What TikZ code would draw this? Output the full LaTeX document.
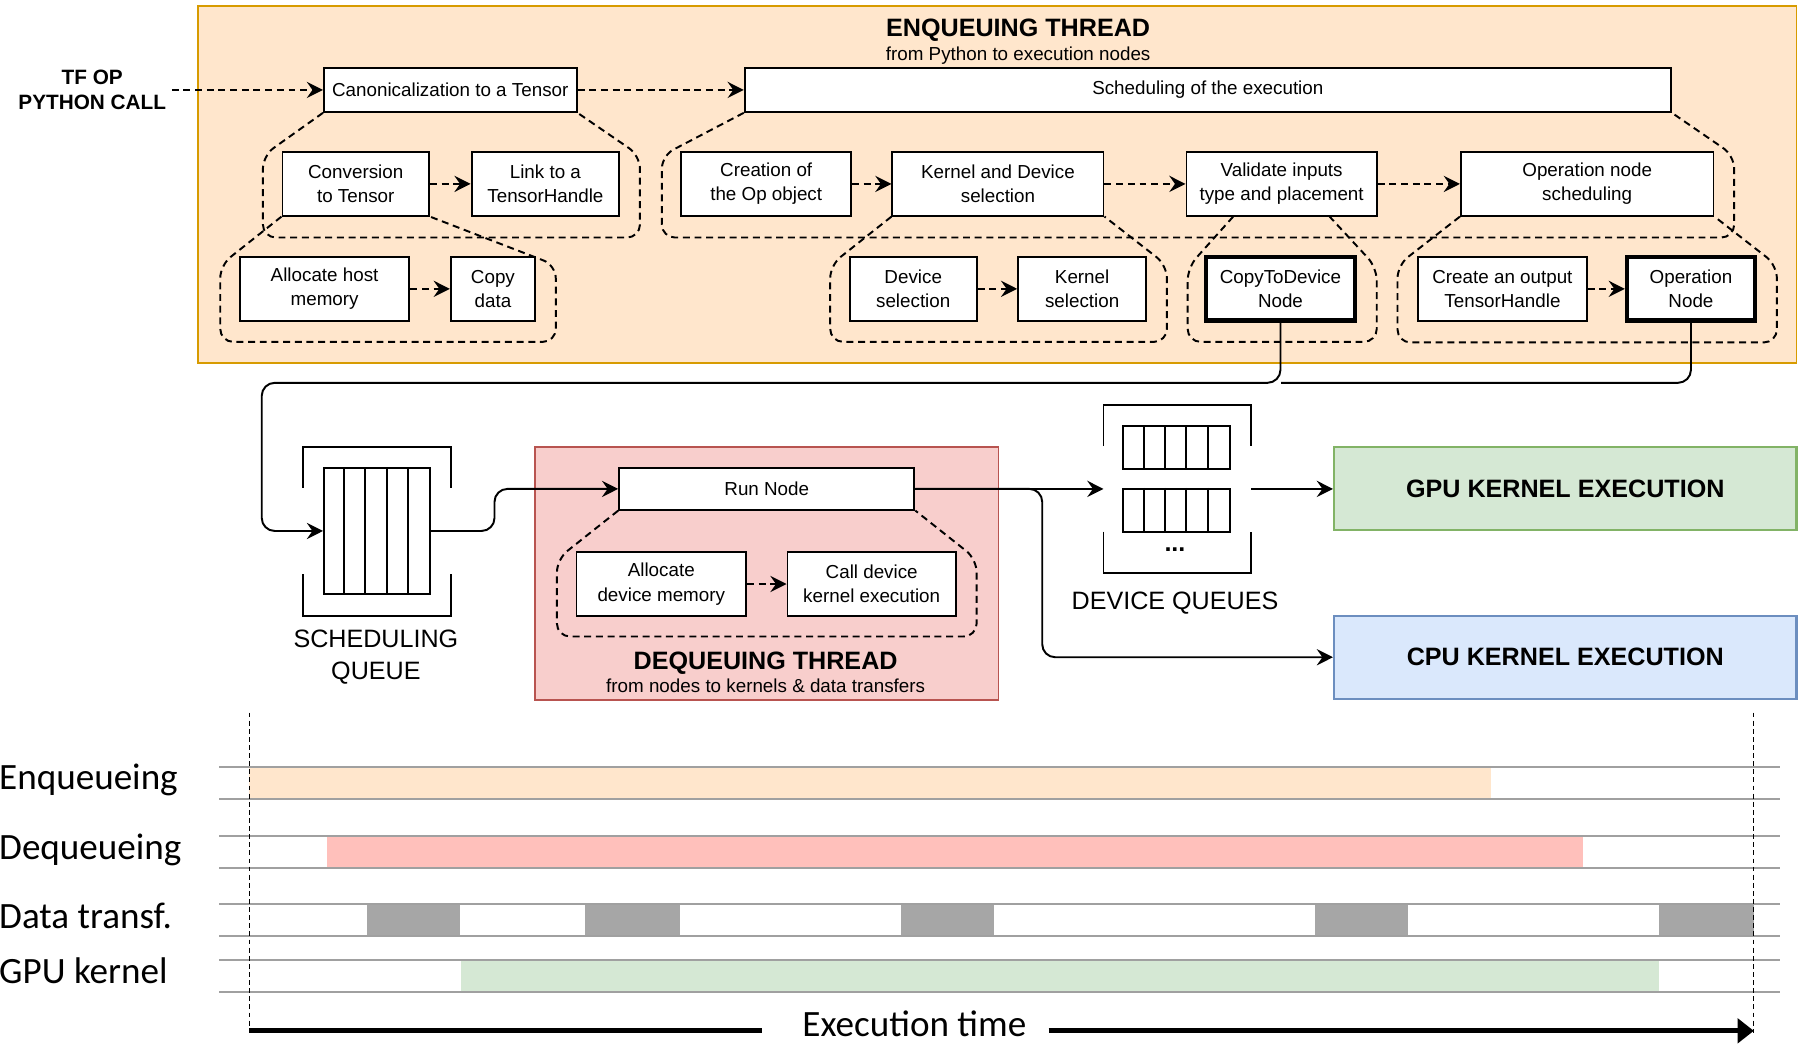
\documentclass[tikz,border=0pt]{standalone}
\usepackage{fontspec}
\setmainfont{Liberation Sans}
\newfontfamily\carlito{Carlito}
\usetikzlibrary{arrows.meta,positioning,calc}
\newcommand\boxfont{\fontsize{11.6}{15}\selectfont}
\newcommand\headfont{\fontsize{15.5}{19}\selectfont\bfseries}
\newcommand\callfont{\fontsize{12.8}{15}\selectfont\bfseries}
\newcommand\labfont{\fontsize{15.5}{19.5}\selectfont}
\newcommand\timefont{\carlito\fontsize{22.9}{27}\selectfont}
\definecolor{enqfill}{HTML}{FFE6CC}
\definecolor{enqline}{HTML}{D79B00}
\definecolor{deqfill}{HTML}{F8CECC}
\definecolor{deqline}{HTML}{B85450}
\definecolor{gpufill}{HTML}{D5E8D4}
\definecolor{gpuline}{HTML}{82B366}
\definecolor{cpufill}{HTML}{DAE8FC}
\definecolor{cpuline}{HTML}{6C8EBF}
\definecolor{deqbar}{HTML}{FFC0BB}
\definecolor{xferbar}{HTML}{A6A6A6}
\definecolor{rowline}{HTML}{A0A0A0}
\begin{document}
\begin{tikzpicture}[x=0.025cm, y=-0.025cm,
    box/.style={draw, fill=white, line width=1.2pt, align=center, font=\boxfont, inner sep=2pt},
    row/.style={box, minimum height=1.375cm},
    heavy/.style={line width=2.6pt},
    dflow/.style={dash pattern=on 4.3pt off 2.9pt, line width=1.2pt, -{Stealth[length=10pt,width=10pt,inset=3.5pt]}},
    callout/.style={dash pattern=on 4.3pt off 2.9pt, line width=1.2pt, rounded corners=8pt},
    flow/.style={line width=1.2pt, rounded corners=8pt, -{Stealth[length=10pt,width=10pt,inset=3.5pt]}},
    wire/.style={line width=1.2pt, rounded corners=8pt},
    qbox/.style={draw, line width=1.2pt},
    rowlab/.style={font=\timefont, anchor=base west, inner sep=0pt},
  ]
  \useasboundingbox (0,0) rectangle (1568,905);

  % thread frames
  \draw[enqline, fill=enqfill, line width=1.1pt] (172,5) rectangle (1558,315);
  \draw[deqline, fill=deqfill, line width=1.1pt] (464,388) rectangle (866,607);
  \node[font=\headfont] (enqT) at (883,26) {ENQUEUING THREAD};
  \node[font=\boxfont] (enqS) at (883,48) {from Python to execution nodes};
  \node[font=\headfont] (deqT) at (664,575) {DEQUEUING THREAD};
  \node[font=\boxfont] (deqS) at (664,595) {from nodes to kernels \& data transfers};

  % enqueuing steps
  \node[font=\callfont, align=center] (call) at (80,78) {TF OP\\PYTHON CALL};
  \node[box, minimum width=5.475cm, minimum height=0.95cm] (canon) at (390.5,78) {Canonicalization to a Tensor};
  \node[box, minimum width=20.075cm, minimum height=0.95cm] (sched) at (1047.5,78) {Scheduling of the execution};
  \node[row, minimum width=3.175cm] (conv) at (308.5,159.5) {Conversion\\to Tensor};
  \node[row, minimum width=3.2cm] (link) at (473,159.5) {Link to a\\TensorHandle};
  \node[row, minimum width=3.675cm] (opobj) at (664.5,159.5) {Creation of\\the Op object};
  \node[row, minimum width=4.575cm] (kdsel) at (865.5,159.5) {Kernel and Device\\selection};
  \node[row, minimum width=4.125cm] (valid) at (1111.5,159.5) {Validate inputs\\type and placement};
  \node[row, minimum width=5.475cm] (opsch) at (1376.5,159.5) {Operation node\\scheduling};
  \node[row, minimum width=3.675cm] (host) at (281.5,250.5) {Allocate host\\memory};
  \node[row, minimum width=1.825cm] (copy) at (427.5,250.5) {Copy\\data};
  \node[row, minimum width=2.75cm] (dsel) at (792,250.5) {Device\\selection};
  \node[row, minimum width=2.775cm] (ksel) at (938.5,250.5) {Kernel\\selection};
  \node[row, heavy, minimum width=3.225cm] (ctd) at (1110.5,250.5) {CopyToDevice\\Node};
  \node[row, minimum width=3.65cm] (outh) at (1303,250.5) {Create an output\\TensorHandle};
  \node[row, heavy, minimum width=2.775cm] (opn) at (1466.5,250.5) {Operation\\Node};

  \draw[dflow] (call) -- (canon);
  \draw[dflow] (canon) -- (sched);
  \draw[dflow] (conv) -- (link);
  \draw[dflow] (opobj) -- (kdsel);
  \draw[dflow] (kdsel) -- (valid);
  \draw[dflow] (valid) -- (opsch);
  \draw[dflow] (host) -- (copy);
  \draw[dflow] (dsel) -- (ksel);
  \draw[dflow] (outh) -- (opn);

  \draw[callout] (canon.south west) -- (228,135) -- (228,206) -- (555,206) -- (555,135) -- (canon.south east);
  \draw[callout] (sched.south west) -- (574,135) -- (574,206) -- (1504,206) -- (1504,135) -- (sched.south east);
  \draw[callout] (conv.south west) -- (191,230) -- (191,296.5) -- (482,296.5) -- (482,230) -- (conv.south east);
  \draw[callout] (kdsel.south west) -- (720,230) -- (720,296.5) -- (1012,296.5) -- (1012,230) -- (kdsel.south east);
  \draw[callout] ([xshift=-1.05cm]valid.south) -- (1030,232) -- (1030,296.5) -- (1194,296.5) -- (1194,232) -- ([xshift=1.04cm]valid.south);
  \draw[callout] (opsch.south west) -- (1212,230) -- (1212,297) -- (1541,297) -- (1541,230) -- (opsch.south east);

  % scheduling queue
  \draw[line width=1.2pt] (263,423) |- (391,388) -- (391,423);
  \draw[line width=1.2pt] (263,498) |- (391,534) -- (391,498);
  \node[qbox, minimum width=2.3cm, minimum height=2.725cm] (sq) at (327,460.5) {};
  \foreach \i in {1,...,4}
    \draw[line width=1.2pt] ([xshift=\i*0.46cm]sq.north west) -- ([xshift=\i*0.46cm]sq.south west);
  \node[font=\labfont, align=center] (sqL) at (326,570) {SCHEDULING\\QUEUE};

  \coordinate (bus) at (1111,332);
  \coordinate (busL) at (227,332);
  \draw[wire] (opn.south) |- (bus);
  \draw[flow] (ctd.south) |- (busL) |- (sq.west);

  % dequeuing steps
  \node[box, minimum width=6.4cm, minimum height=0.9cm] (run) at (665,424) {Run Node};
  \node[row, minimum width=3.675cm] (adev) at (573.5,506.5) {Allocate\\device memory};
  \node[row, minimum width=3.65cm] (kcall) at (756,506.5) {Call device\\kernel execution};
  \draw[dflow] (adev) -- (kcall);
  \draw[callout] (run.south west) -- (483,485) -- (483,552) -- (847,552) -- (847,485) -- (run.south east);
  \draw[flow] (sq.east) -- ++(55,0) |- (run.west);

  % device queues
  \draw[line width=1.2pt] (957,387) |- (1085,351) -- (1085,387);
  \draw[line width=1.2pt] (957,461) |- (1085,497) -- (1085,461);
  \node[qbox, minimum width=2.325cm, minimum height=0.925cm] (dq1) at (1020.5,388) {};
  \node[qbox, minimum width=2.325cm, minimum height=0.925cm] (dq2) at (1020.5,442.5) {};
  \foreach \q in {dq1,dq2}
    \foreach \i in {1,...,4}
      \draw[line width=1.2pt] ([xshift=\i*0.465cm]\q.north west) -- ([xshift=\i*0.465cm]\q.south west);
  \node[font=\labfont\bfseries] (dots) at (1019,477) {...};
  \node[font=\labfont] (dqL) at (1019,523) {DEVICE QUEUES};
  \coordinate (dqIn) at (957,424);
  \coordinate (dqOut) at (1085,424);

  \node[draw=gpuline, fill=gpufill, line width=1.3pt, minimum width=10.025cm, minimum height=1.8cm, font=\headfont] (gpu) at (1357.5,424) {GPU KERNEL EXECUTION};
  \node[draw=cpuline, fill=cpufill, line width=1.3pt, minimum width=10.025cm, minimum height=1.8cm, font=\headfont] (cpu) at (1357.5,570) {CPU KERNEL EXECUTION};

  \draw[flow] (run.east) -- (dqIn);
  \draw[flow] (dqOut) -- (gpu.west);
  \draw[flow] (run.east) -- ++(110,0) |- (cpu.west);

  % execution timeline
  \fill[enqfill] (216,665) rectangle (1293,693);
  \fill[deqbar] (284,725) rectangle (1373,753);
  \foreach \a/\b in {318/399, 507/590, 781/862, 1140/1221, 1439/1521}
    \fill[xferbar] (\a,784) rectangle (\b,812);
  \fill[gpufill] (400,832.5) rectangle (1439,860);
  \foreach \y in {665,693,725,753,784,812,832.5,860}
    \draw[rowline, line width=1.1pt] (190,\y) -- (1544,\y);
  \draw[line width=0.6pt, dash pattern=on 3pt off 2pt] (216,618) -- (216,896);
  \draw[line width=0.6pt, dash pattern=on 3pt off 2pt] (1521,618) -- (1521,896);

  \node[rowlab] (lEnq) at (-1,685) {Enqueueing};
  \node[rowlab] (lDeq) at (-1,745) {Dequeueing};
  \node[rowlab] (lXfer) at (-1,805) {Data transf.};
  \node[rowlab] (lGpu) at (-1,853) {GPU kernel};

  \node[font=\timefont, anchor=base, inner sep=0pt] (et) at (793,899) {Execution time};
  \coordinate (t0) at (216,894);
  \coordinate (t1) at (1521,894);
  \draw[line width=3pt] (t0) -- ($(t0 -| et.west)+(-35,0)$);
  \draw[line width=3pt, -{Triangle[length=10pt,width=15pt]}] ($(t1 -| et.east)+(19,0)$) -- (t1);
\end{tikzpicture}
\end{document}
